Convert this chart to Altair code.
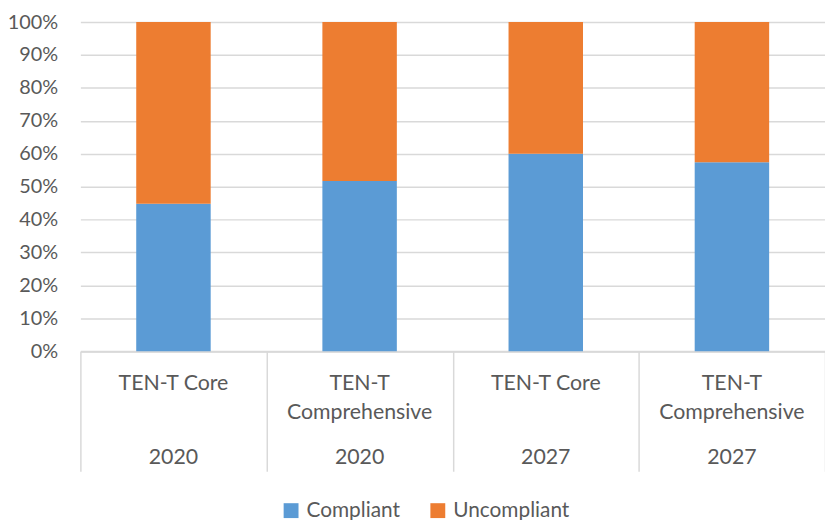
import altair as alt
import pandas as pd

# ---- data ----
keys = ["c1", "c2", "c3", "c4"]
line1 = ["TEN-T Core", "TEN-T", "TEN-T Core", "TEN-T"]
line2 = ["", "Comprehensive", "", "Comprehensive"]
years = ["2020", "2020", "2027", "2027"]
compliant = [44.8, 51.7, 60.0, 57.4]
uncompliant = [55.2, 48.3, 40.0, 42.6]
series = ["Compliant", "Uncompliant"]
colors = ["#5B9BD5", "#ED7D31"]

rows = []
for k, c, u in zip(keys, compliant, uncompliant):
    rows.append({"key": k, "series": "Compliant", "value": c})
    rows.append({"key": k, "series": "Uncompliant", "value": u})
df = pd.DataFrame(rows)
labels = pd.DataFrame({"key": keys, "line1": line1, "line2": line2, "year": years})

FONT = "Lato"
TXT = "#595959"
GRID = "#D9D9D9"

xscale = alt.Scale(domain=keys, paddingInner=0, paddingOuter=0)

bars = alt.Chart(df).mark_bar(width=alt.RelativeBandSize(0.4)).encode(
    x=alt.X("key:N", scale=xscale, sort=keys,
            axis=alt.Axis(title=None, labels=False, tickBand="extent", tickSize=121,
                          tickColor=GRID, tickWidth=1.5, domainColor=GRID, domainWidth=2,
                          grid=False)),
    y=alt.Y("value:Q", stack="normalize",
            scale=alt.Scale(domain=[0, 1]),
            axis=alt.Axis(title=None, format=".0%", values=[i / 10 for i in range(11)],
                          domain=False, ticks=False, labelPadding=23,
                          labelFont=FONT, labelFontSize=20, labelColor=TXT,
                          gridColor=GRID, gridWidth=1.5)),
    color=alt.Color("series:N", scale=alt.Scale(domain=series, range=colors),
                    legend=alt.Legend(title=None, orient="none", direction="horizontal",
                                      legendX=202, legendY=482,
                                      symbolType="square", symbolSize=225,
                                      symbolStrokeWidth=0, labelFont=FONT,
                                      labelFontSize=21, labelColor=TXT,
                                      labelOffset=5, columnPadding=27)),
    order=alt.Order("series:N", sort="ascending"),
)

def text_layer(field, ypix):
    return alt.Chart(labels).mark_text(
        font=FONT, fontSize=21.5, color=TXT, baseline="alphabetic", align="center"
    ).encode(
        x=alt.X("key:N", scale=xscale, sort=keys),
        y=alt.value(ypix),
        text=f"{field}:N",
    )

chart = alt.layer(
    bars,
    text_layer("line1", 371),
    text_layer("line2", 400),
    text_layer("year", 446),
).properties(
    width=751, height=332,
    autosize=alt.AutoSizeParams(type="none"),
    padding={"left": 73, "top": 12, "right": 0, "bottom": 168},
).configure_view(stroke=None)

chart.save("out.html", embed_options={"renderer": "svg", "actions": False})
